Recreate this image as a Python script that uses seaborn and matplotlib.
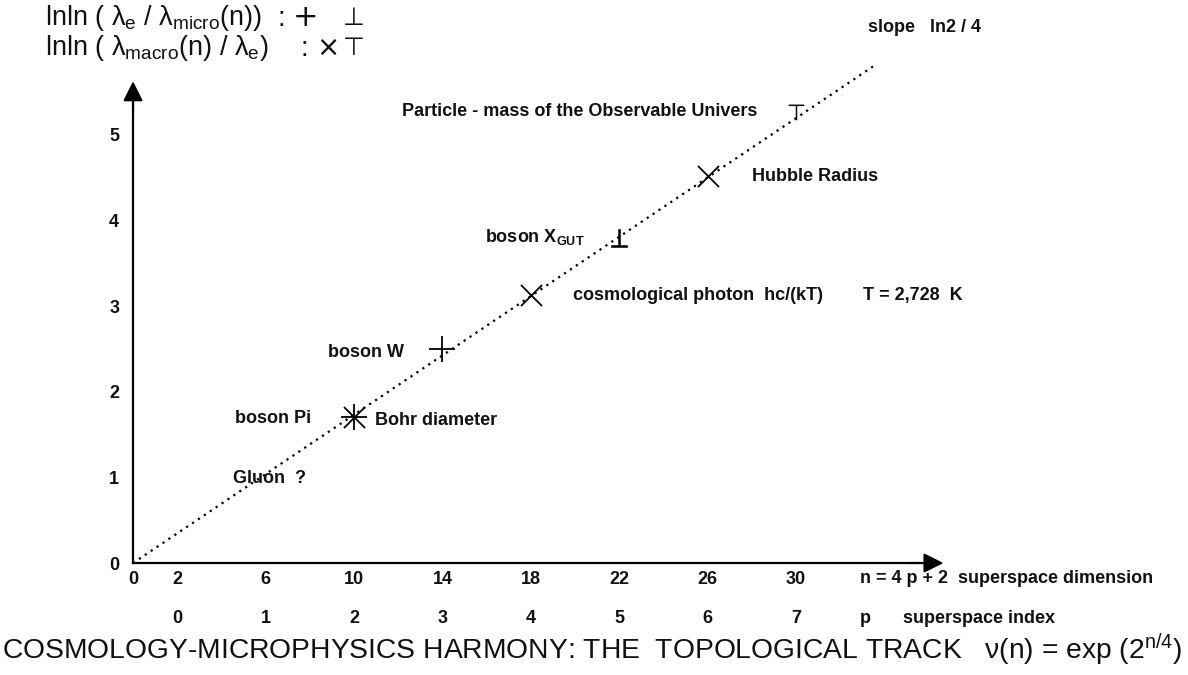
import matplotlib
matplotlib.use("Agg")
import matplotlib.pyplot as plt
import seaborn as sns

# DATA
line_n = [0, 33.6]
line_y = [0, 5.82]

plus_n = [10, 14]
plus_y = [1.71, 2.50]
cross_n = [10, 18, 26]
cross_y = [1.71, 3.13, 4.52]
perp_n = [22]
perp_y = [3.80]
top_n = [30]
top_y = [5.27]

n_ticks = list(range(0, 32, 2))
n_labels = ['0', '2', '', '6', '', '10', '', '14', '', '18', '', '22', '', '26', '', '30']
y_ticks = [0, 1, 2, 3, 4, 5]
p_pos = [2, 6, 10, 14, 18, 22, 26, 30]
p_labels = ['0', '1', '2', '3', '4', '5', '6', '7']

sns.set_theme(style="white")
plt.rcParams['font.family'] = ['Liberation Sans', 'DejaVu Sans']
plt.rcParams['mathtext.fontset'] = 'custom'
plt.rcParams['mathtext.rm'] = 'Liberation Sans'
plt.rcParams['mathtext.it'] = 'Liberation Sans'
plt.rcParams['mathtext.bf'] = 'Liberation Sans:bold'

fig = plt.figure(figsize=(11.88, 6.75), dpi=100)
ax = fig.add_axes([0, 0, 1, 1])
ax.set_xlim(-6.02, 47.74)
ax.set_ylim(-1.308, 6.577)

# dotted track
sns.lineplot(x=line_n, y=line_y, ax=ax, color='black', linewidth=1.6,
             linestyle=(0, (1, 2.2)))

# markers
sns.scatterplot(x=plus_n, y=plus_y, ax=ax, marker='+', s=330, color='black', linewidth=1.3)
sns.scatterplot(x=cross_n, y=cross_y, ax=ax, marker='x', s=230, color='black', linewidth=1.3)
sns.scatterplot(x=perp_n, y=perp_y, ax=ax, marker='$\\perp$', s=180, color='black',
                edgecolor='black', linewidth=0.4)
sns.scatterplot(x=top_n, y=top_y, ax=ax, marker='$\\top$', s=120, color='black',
                edgecolor='black', linewidth=0.4)

# axes through the origin
for side in ['top', 'right']:
    ax.spines[side].set_visible(False)
ax.spines['left'].set_position(('data', 0))
ax.spines['bottom'].set_position(('data', 0))
ax.spines['left'].set_bounds(0, 5.45)
ax.spines['bottom'].set_bounds(0, 35.8)
for side in ['left', 'bottom']:
    ax.spines[side].set_linewidth(1.6)
    ax.spines[side].set_color('black')

ax.annotate('', xy=(36.8, 0), xytext=(35.0, 0),
            arrowprops=dict(arrowstyle='-|>', color='black', lw=1.5, mutation_scale=30))
ax.annotate('', xy=(0, 5.66), xytext=(0, 5.2),
            arrowprops=dict(arrowstyle='-|>', color='black', lw=1.5, mutation_scale=30))

ax.set_xticks(n_ticks)
ax.set_xticklabels(n_labels)
ax.set_yticks(y_ticks)
ax.set_yticklabels([str(v) for v in y_ticks])
ax.tick_params(axis='x', direction='in', length=9, width=1.2, pad=6, labelsize=13, colors='black')
ax.tick_params(axis='y', direction='in', length=10, width=1.2, pad=10, labelsize=13, colors='black')
plt.setp(ax.get_xticklabels() + ax.get_yticklabels(), fontweight='bold', color='#111111')

# p row
for pos, lab in zip(p_pos, p_labels):
    ax.text(pos, -0.643, lab, ha='center', va='center', fontsize=13, fontweight='bold',
            color='#111111')

bold = dict(fontsize=13, fontweight='bold', va='center', ha='left', color='#111111')
ax.text(32.9, -0.175, 'n = 4 p + 2  superspace dimension', **bold)
ax.text(32.9, -0.643, 'p', **bold)
ax.text(34.84, -0.643, 'superspace index', **bold)
ax.text(33.26, 6.25, 'slope   ln2 / 4', **bold)
ax.text(12.17, 5.27, 'Particle - mass of the Observable Univers', **bold)
ax.text(28.0, 4.51, 'Hubble Radius', **bold)
ax.text(15.93, 3.81, 'boson X$_{\\mathbf{GUT}}$', **bold)
ax.text(19.91, 3.13, 'cosmological photon  hc/(kT)', **bold)
ax.text(33.03, 3.13, 'T = 2,728  K', **bold)
ax.text(8.82, 2.46, 'boson W', **bold)
ax.text(4.62, 1.69, 'boson Pi', **bold)
ax.text(10.95, 1.67, 'Bohr diameter', **bold)
ax.text(4.52, 0.99, 'Gluon  ?', **bold)

# header (legend of the symbols)
head = dict(fontsize=19.5, va='center', ha='left', color='#111111')
sym = dict(va='center', ha='center', color='#111111', family=['DejaVu Sans'])
ax.text(-3.98, 6.37, 'lnln ( $\\lambda_{\\rm e}$ / $\\lambda_{\\rm micro}$(n))', **head)
ax.text(6.52, 6.35, ':', **head)
ax.text(7.83, 6.37, '+', fontsize=22, **sym)
ax.text(10.0, 6.37, '\u22a5', fontsize=18, **sym)
ax.text(-3.98, 6.02, 'lnln ( $\\lambda_{\\rm macro}$(n) / $\\lambda_{\\rm e}$)', **head)
ax.text(7.6, 6.00, ':', **head)
ax.text(8.82, 6.02, '\u00d7', fontsize=20, **sym)
ax.text(10.0, 6.02, '\u22a4', fontsize=18, **sym)

# title line
ax.text(-5.93, -1.016,
        'COSMOLOGY-MICROPHYSICS HARMONY: THE  TOPOLOGICAL TRACK   \u03bd(n) = exp (2$^{\\rm n/4}$)',
        fontsize=20.3, va='center', ha='left', color='#111111')

fig.savefig('out.png', dpi=100, facecolor='white')
